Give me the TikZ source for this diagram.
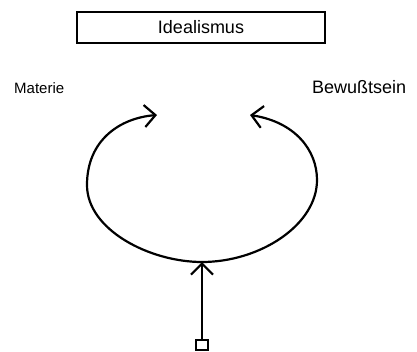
\documentclass[tikz,border=0pt]{standalone}
\usepackage{fontspec}
\setmainfont{Liberation Sans}
\usetikzlibrary{arrows.meta}
\tikzset{
  titlebox/.style={draw, line width=1.5pt, minimum width=248pt, minimum height=31pt, inner sep=0pt, font=\fontsize{18}{20}\selectfont},
  lbl/.style={inner sep=0pt, anchor=base west},
  stroke/.style={line width=2.2pt, line cap=round, line join=round},
  barb/.style={-{Straight Barb[length=11pt,width=22pt,line width=2.2pt]}},
  origin/.style={draw, line width=2pt, minimum width=12pt, minimum height=10pt, inner sep=0pt}
}
\begin{document}
\begin{tikzpicture}[x=1pt,y=-1pt]
\useasboundingbox (0,0) rectangle (417,351);
\node[titlebox] (ideal) at (201,27.5) {Idealismus};
\node[lbl, font=\fontsize{15}{17}\selectfont] (materie) at (14,93) {Materie};
\node[lbl, font=\fontsize{18}{20}\selectfont] (bewusst) at (312,93) {Bewußtsein};
\node[origin] (src) at (202,344.5) {};
\coordinate (bot) at (202,262);
\coordinate (lmid) at (87,185);
\coordinate (ltip) at (157,115);
\coordinate (rmid) at (317,180);
\coordinate (rtip) at (250,115);
\draw[stroke, barb] (bot) .. controls (150,262) and (87,230) .. (lmid)
  .. controls (87,140) and (120,118) .. (ltip);
\draw[stroke, barb] (bot) .. controls (260,262) and (317,225) .. (rmid)
  .. controls (317,150) and (295,122) .. (rtip);
\draw[stroke, barb] (src) -- (bot);
\end{tikzpicture}
\end{document}
